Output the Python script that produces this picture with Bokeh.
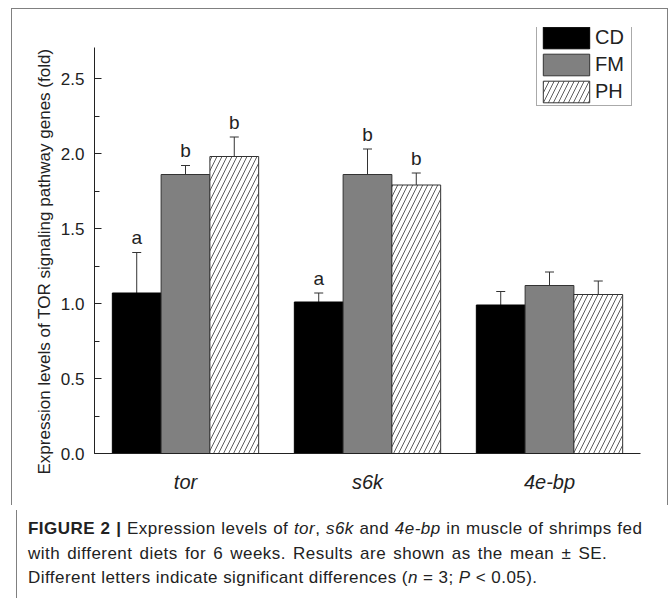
from bokeh.plotting import figure
from bokeh.models import (ColumnDataSource, FactorRange, Whisker, TeeHead, Legend, LegendItem,
                          SingleIntervalTicker, Div, NumeralTickFormatter, Title)
from bokeh.transform import dodge
from bokeh.layouts import column
from bokeh.embed import file_html
from bokeh.resources import INLINE

# ---- data ----
genes = ["tor", "s6k", "4e-bp"]
diets = ["CD", "FM", "PH"]
cd_mean = [1.07, 1.01, 0.99]
cd_se = [0.27, 0.06, 0.09]
fm_mean = [1.86, 1.86, 1.12]
fm_se = [0.06, 0.17, 0.09]
ph_mean = [1.98, 1.79, 1.06]
ph_se = [0.13, 0.08, 0.09]
cd_letters = ["a", "a", ""]
fm_letters = ["b", "b", ""]
ph_letters = ["b", "b", ""]
y_ticks_interval = 0.5
y_axis_title = "Expression levels of TOR signaling pathway genes (fold)"

FONT = "Liberation Sans"
DARK = "#222222"
FRAME = "#808080"

p = figure(width=655, height=496, x_range=FactorRange(*genes), y_range=(0, 2.84),
           output_backend="svg", toolbar_location=None,
           min_border_left=82, min_border_right=27, min_border_top=18, min_border_bottom=52,
           styles={"box-shadow": f"-1px 0 0 0 {FRAME}, 1px 0 0 0 {FRAME}, 0 -1px 0 0 {FRAME}, "
                                 f"-1px -1px 0 0 {FRAME}, 1px -1px 0 0 {FRAME}"})
p.outline_line_color = None
p.xgrid.grid_line_color = None
p.ygrid.grid_line_color = None
p.background_fill_color = "white"
p.border_fill_color = "white"

width = 0.268
offsets = [-width, 0.0, width]
series = [
    (cd_mean, cd_se, cd_letters, dict(fill_color="black", line_color="black")),
    (fm_mean, fm_se, fm_letters, dict(fill_color="#808080", line_color="#333333")),
    (ph_mean, ph_se, ph_letters, dict(fill_color="white", line_color="#333333",
                                      hatch_pattern="/", hatch_color="#333333",
                                      hatch_scale=10, hatch_weight=0.8)),
]
renderers = []
for (mean, se, letters, style), off in zip(series, offsets):
    src = ColumnDataSource(dict(
        gene=genes, mean=mean,
        upper=[m + s for m, s in zip(mean, se)],
        lower=[m - s for m, s in zip(mean, se)],
        letter=letters))
    r = p.vbar(x=dodge("gene", off, range=p.x_range), top="mean", width=width,
               source=src, line_width=1, **style)
    renderers.append(r)
    w = Whisker(source=src, base=dodge("gene", off, range=p.x_range),
                upper="upper", lower="lower", line_color="#333333", line_width=1,
                upper_head=TeeHead(size=9, line_color="#333333", line_width=1),
                lower_head=TeeHead(size=9, line_color="#333333", line_width=1))
    p.add_layout(w)
    p.text(x=dodge("gene", off, range=p.x_range), y="upper", text="letter", source=src,
           text_align="center", text_baseline="middle", y_offset=-15,
           text_font_size="19px", text_font={"value": FONT}, text_color=DARK)

# axes
yax = p.yaxis[0]
yax.ticker = SingleIntervalTicker(interval=y_ticks_interval, num_minor_ticks=2)
yax.formatter = NumeralTickFormatter(format="0.0")
yax.bounds = (0, 2.71)
yax.major_tick_in = 7
yax.major_tick_out = 0
yax.minor_tick_in = 5
yax.minor_tick_out = 0
yax.major_label_standoff = 10
yax.major_label_text_font_size = "17px"
yax.major_label_text_font = FONT
yax.major_label_text_color = DARK
yax.axis_line_color = DARK
yax.major_tick_line_color = DARK
yax.minor_tick_line_color = DARK

p.add_layout(Title(text=y_axis_title, align="left", offset=-21, vertical_align="bottom",
                   standoff=8, text_font=FONT, text_font_size="17px", text_font_style="normal",
                   text_color=DARK), "left")

xax = p.xaxis[0]
xax.major_tick_line_color = None
xax.minor_tick_line_color = None
xax.axis_line_color = DARK
xax.major_label_text_font_size = "20px"
xax.major_label_text_font = FONT
xax.major_label_text_font_style = "italic"
xax.major_label_text_color = DARK
xax.major_label_standoff = 11

legend = Legend(items=[LegendItem(label=d, renderers=[r]) for d, r in zip(diets, renderers)],
                location=(442, 347), margin=0, padding=0, spacing=-1,
                glyph_width=58, glyph_height=27, label_height=27, label_width=36,
                label_standoff=0, label_text_font_size="20px", label_text_font=FONT,
                label_text_color=DARK, border_line_color="#555555", border_line_width=1,
                background_fill_color="white", background_fill_alpha=1.0)
p.add_layout(legend)

caption_html = (
    '<div style="font-family:\'Liberation Sans\',Arial,sans-serif;font-size:17px;'
    'letter-spacing:0.45px;line-height:24.5px;color:#222;padding:7px 0 0 11px;white-space:nowrap;">'
    '<span style="word-spacing:0.5px;"><b>FIGURE 2 |</b> Expression levels of <i>tor</i>, '
    '<i>s6k</i> and <i>4e-bp</i> in muscle of shrimps fed</span><br>'
    '<span style="word-spacing:2px;">with different diets for 6 weeks. Results are shown as '
    'the mean &plusmn; SE.</span><br>'
    'Different letters indicate significant differences (<i>n</i> = 3; <i>P</i> &lt; 0.05).'
    '</div>'
)
cap = Div(text=caption_html, width=655, height=93,
          styles={"box-shadow": f"-1px 0 0 0 {FRAME}, 1px 0 0 0 {FRAME}",
                  "background-color": "white"})

layout = column(p, cap, margin=(9, 0, 0, 12))

open("out.html", "w").write(file_html(layout, INLINE))
